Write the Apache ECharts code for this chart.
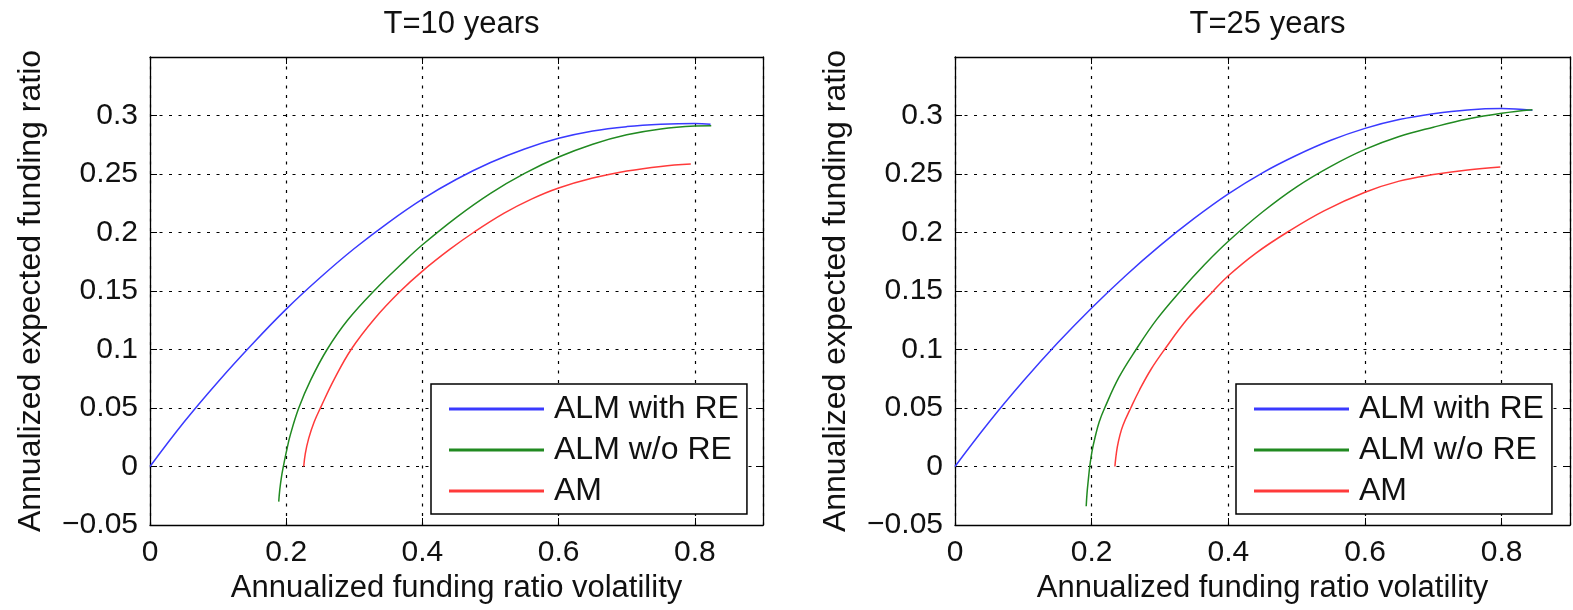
<!DOCTYPE html>
<html>
<head>
<meta charset="utf-8">
<title>Funding ratio frontiers</title>
<script src="https://cdn.jsdelivr.net/npm/echarts@6/dist/echarts.min.js"></script>
<style>
  html, body { margin: 0; padding: 0; background: #fff; }
  #main { width: 1573px; height: 610px; }
</style>
</head>
<body>
<div id="main"></div>
<script>
// series names and panel titles
var seriesNames = ['ALM with RE', 'ALM w/o RE', 'AM'];
var panelTitles = ['T=10 years', 'T=25 years'];

// T=10 years: volatility (x) / expected funding ratio (y)
var t10BlueX = [0, 0.05, 0.1, 0.15, 0.2, 0.25, 0.3, 0.35, 0.4, 0.45, 0.5, 0.55, 0.6, 0.65, 0.7, 0.75, 0.8, 0.823];
var t10BlueY = [0, 0.038, 0.0725, 0.1045, 0.1345, 0.1615, 0.1863, 0.2085, 0.2285, 0.2455, 0.2598, 0.2714, 0.2805, 0.2868, 0.2905, 0.2925, 0.2932, 0.2925];
var t10GreenX = [0.189, 0.1905, 0.193, 0.1958, 0.2, 0.206, 0.2184, 0.236, 0.26, 0.29, 0.332, 0.37, 0.4, 0.45, 0.5, 0.55, 0.6, 0.65, 0.7, 0.75, 0.8, 0.824];
var t10GreenY = [-0.03, -0.02, -0.009, 0, 0.012, 0.027, 0.05, 0.074, 0.1, 0.125, 0.152, 0.1735, 0.1895, 0.213, 0.2335, 0.2505, 0.2645, 0.2755, 0.2835, 0.2885, 0.291, 0.2913];
var t10RedX = [0.2257, 0.228, 0.233, 0.241, 0.251, 0.27, 0.2953, 0.33, 0.367, 0.4, 0.44, 0.475, 0.52, 0.56, 0.6, 0.65, 0.7, 0.75, 0.794];
var t10RedY = [0, 0.011, 0.024, 0.038, 0.051, 0.074, 0.1, 0.1265, 0.1495, 0.167, 0.1855, 0.2, 0.2165, 0.2285, 0.238, 0.2465, 0.2525, 0.2565, 0.2585];

// T=25 years
var t25BlueX = [0, 0.05, 0.1, 0.15, 0.2, 0.25, 0.3, 0.35, 0.4, 0.45, 0.5, 0.55, 0.6, 0.65, 0.7, 0.75, 0.8, 0.845];
var t25BlueY = [0, 0.038, 0.073, 0.1055, 0.1355, 0.1633, 0.1888, 0.212, 0.233, 0.251, 0.266, 0.2788, 0.289, 0.2965, 0.3015, 0.3048, 0.306, 0.3045];
var t25GreenX = [0.192, 0.1932, 0.195, 0.1972, 0.2005, 0.205, 0.211, 0.219, 0.24, 0.265, 0.295, 0.33, 0.365, 0.4, 0.45, 0.5, 0.55, 0.6, 0.65, 0.7, 0.75, 0.8, 0.845];
var t25GreenY = [-0.034, -0.023, -0.012, 0, 0.013, 0.025, 0.038, 0.05, 0.0763, 0.1, 0.1255, 0.15, 0.1724, 0.1925, 0.2175, 0.239, 0.2565, 0.271, 0.282, 0.29, 0.297, 0.302, 0.305];
var t25RedX = [0.234, 0.2352, 0.2375, 0.241, 0.246, 0.2572, 0.27, 0.2865, 0.3067, 0.34, 0.378, 0.4, 0.44, 0.4856, 0.54, 0.6, 0.65, 0.7, 0.75, 0.798];
var t25RedY = [0, 0.007, 0.0165, 0.026, 0.0355, 0.05, 0.0654, 0.0827, 0.1, 0.126, 0.15, 0.163, 0.1822, 0.2, 0.2185, 0.2344, 0.2439, 0.2495, 0.2535, 0.256];

var colors = ['#3a3aff', '#218a21', '#ff3a3a'];
var font = 'Liberation Sans, Arial, sans-serif';
var txt = '#111';

function pairs(xs, ys) {
  return xs.map(function (x, i) { return [x, ys[i]]; });
}

var panelData = [
  [pairs(t10BlueX, t10BlueY), pairs(t10GreenX, t10GreenY), pairs(t10RedX, t10RedY)],
  [pairs(t25BlueX, t25BlueY), pairs(t25GreenX, t25GreenY), pairs(t25RedX, t25RedY)]
];

// plot boxes (px)
var grids = [
  { left: 150, top: 57, width: 613, height: 468 },
  { left: 955, top: 57, width: 615, height: 468 }
];

function yFmt(v) {
  var r = Math.round(v * 100) / 100;
  return r < 0 ? '\u2212' + Math.abs(r) : String(r);
}

var gridDots = { show: true, lineStyle: { color: '#000', type: [3, 6.5], width: 1.2 } };
var boxLine = { onZero: false, lineStyle: { color: '#000', width: 1.3 } };
var inTicks = { inside: true, length: 7, lineStyle: { color: '#000' } };

var xAxes = [], yAxes = [], series = [], titles = [], legends = [];
grids.forEach(function (g, p) {
  // bottom x
  xAxes.push({
    type: 'value', gridIndex: p, min: 0, max: 0.9, interval: 0.2, position: 'bottom',
    name: 'Annualized funding ratio volatility', nameLocation: 'middle', nameGap: 46,
    nameTextStyle: { fontFamily: font, fontSize: 31, color: txt },
    axisLine: boxLine, axisTick: inTicks,
    axisLabel: { showMaxLabel: false, margin: 13, fontFamily: font, fontSize: 30, color: txt },
    splitLine: gridDots
  });
  // top x, only the box edge and ticks
  xAxes.push({
    type: 'value', gridIndex: p, min: 0, max: 0.9, interval: 0.2, position: 'top',
    axisLine: boxLine, axisTick: inTicks,
    axisLabel: { show: false }, splitLine: { show: false }
  });
  yAxes.push({
    type: 'value', gridIndex: p, min: -0.05, max: 0.35, interval: 0.05, position: 'left',
    name: 'Annualized expected funding ratio', nameLocation: 'middle', nameGap: 103,
    nameTextStyle: { fontFamily: font, fontSize: 32, color: txt },
    axisLine: boxLine, axisTick: inTicks,
    axisLabel: { showMaxLabel: false, margin: 12, fontFamily: font, fontSize: 30, color: txt, formatter: yFmt },
    splitLine: gridDots
  });
  yAxes.push({
    type: 'value', gridIndex: p, min: -0.05, max: 0.35, interval: 0.05, position: 'right',
    axisLine: boxLine, axisTick: inTicks,
    axisLabel: { show: false }, splitLine: { show: false }
  });

  titles.push({
    text: panelTitles[p], left: g.left + g.width / 2, top: 4, textAlign: 'center',
    textStyle: { fontFamily: font, fontSize: 31, fontWeight: 'normal', color: txt }
  });

  legends.push({
    data: seriesNames, orient: 'vertical',
    left: g.left + 281, top: 384,
    backgroundColor: '#fff', borderColor: '#000', borderWidth: 1.5,
    padding: [9, 8, 7, 18], itemWidth: 95, itemHeight: 3, itemGap: 9,
    icon: 'rect',
    textStyle: { fontFamily: font, fontSize: 32, color: txt, lineHeight: 30, padding: [0, 0, 0, 5] },
    selectedMode: false
  });

  seriesNames.forEach(function (name, k) {
    series.push({
      name: name, type: 'line', xAxisIndex: p * 2, yAxisIndex: p * 2,
      data: panelData[p][k], showSymbol: false, symbol: 'none', smooth: 0.4,
      lineStyle: { color: colors[k], width: 1.5 }, itemStyle: { color: colors[k] },
      z: 3
    });
  });
});

var myChart = echarts.init(document.getElementById('main'));
var option = {
  backgroundColor: '#fff',
  animation: false,
  title: titles,
  legend: legends,
  grid: grids,
  xAxis: xAxes,
  yAxis: yAxes,
  series: series
};
myChart.setOption(option);
</script>
</body>
</html>
